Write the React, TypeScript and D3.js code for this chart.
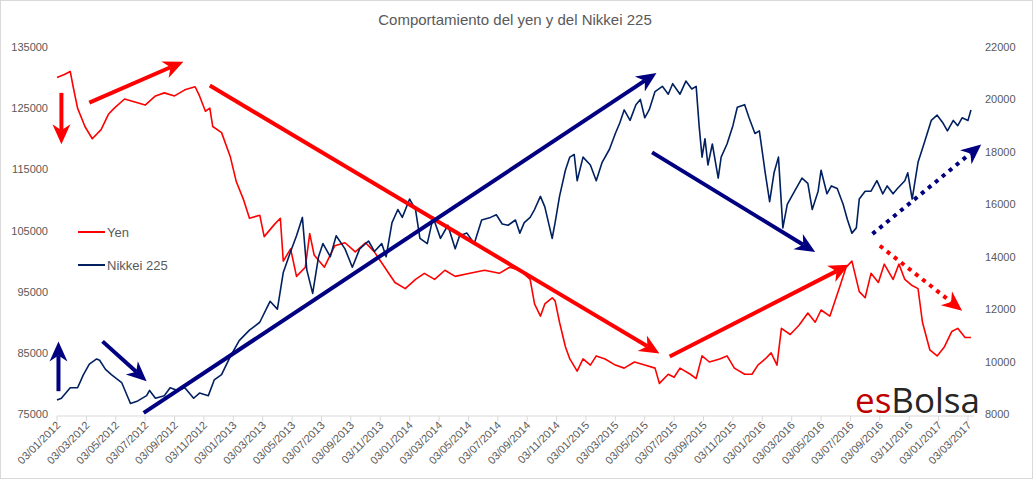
import * as d3 from "d3";

// months since 03/01/2012
const yenMonths = [0,0.5,0.9,1.1,1.4,1.9,2.4,3.0,3.5,3.9,4.6,5.3,6.0,6.7,7.3,8.0,8.7,9.4,9.7,10.1,10.4,10.6,11.2,11.8,12.2,12.7,13.1,13.8,14.1,14.8,15.2,15.4,15.9,16.3,16.9,17.2,17.5,18.2,18.9,19.6,20.3,21.0,21.6,22.3,23.0,23.7,24.4,25.0,25.7,26.4,27.1,28.1,29.1,30.1,30.8,31.5,32.2,32.5,32.9,33.2,33.7,33.9,34.2,34.6,34.9,35.4,35.8,36.3,36.7,37.3,38.0,38.6,39.3,40.0,40.7,41.0,41.6,42.0,42.4,43.1,43.5,43.9,44.4,45.1,45.6,46.1,46.8,47.3,47.7,48.2,48.6,49.0,49.3,49.9,50.5,51.1,51.6,52.0,52.6,53.3,53.7,54.1,54.6,55.0,55.4,55.9,56.3,56.9,57.3,57.7,58.2,58.6,58.9,59.4,59.9,60.4,60.9,61.3,61.8,62.2];
const yenValues = [130000,130500,131000,128500,125000,122000,120000,121500,124000,125000,126500,126000,125500,127000,127500,127000,128000,128500,127000,124500,125000,122000,121000,117000,113000,110000,107000,107500,104000,106000,107000,100000,102000,97500,99000,104500,101000,99000,102500,103000,101500,103000,101500,99000,96500,95500,97000,98000,97000,98500,97500,98000,98500,98000,99000,98500,97000,93000,91000,93000,94000,93500,90000,86000,84000,82000,84000,83000,84500,84000,83000,82500,83500,83000,82500,80000,81500,81000,82500,81500,80800,84500,83500,84000,84500,82500,81500,81500,83000,84000,85000,83000,89000,88000,89500,91500,90000,92000,91000,96000,99000,100000,95000,94000,98000,96500,99500,97000,99500,97000,96000,95500,90000,85500,84500,86000,88500,89000,87500,87500];

const nikMonths = [0,0.3,0.9,1.4,1.8,2.2,2.7,2.9,3.3,3.7,4.4,5.0,5.5,6.1,6.3,6.7,7.3,7.7,8.2,8.7,9.3,9.7,10.3,10.7,11.2,11.8,12.4,13.1,13.8,14.5,15.0,15.4,15.9,16.3,16.7,17.0,17.4,17.8,18.1,18.6,19.0,19.6,20.1,20.6,21.2,21.6,22.1,22.4,22.8,23.2,23.5,24.0,24.4,24.7,25.2,25.6,26.1,26.6,27.1,27.4,27.9,28.4,28.9,29.5,29.9,30.3,30.7,31.2,31.5,31.8,32.2,32.5,32.9,33.2,33.7,33.9,34.2,34.6,34.9,35.2,35.4,35.8,36.3,36.7,37.1,37.6,38.0,38.3,38.6,39.0,39.4,39.7,40.0,40.3,40.7,41.2,41.6,41.9,42.4,42.8,43.2,43.5,43.7,43.9,44.1,44.3,44.6,45.0,45.2,45.6,46.0,46.3,46.8,47.1,47.5,47.8,48.2,48.5,48.8,49.1,49.4,49.7,50.2,50.7,51.1,51.4,51.8,52.0,52.4,52.7,53.1,53.5,53.8,54.1,54.4,54.6,55.0,55.4,55.8,56.2,56.5,56.9,57.2,57.7,57.9,58.2,58.6,59.0,59.5,59.9,60.3,60.6,61.0,61.3,61.6,62.0,62.2];
const nikValues = [8530,8600,9000,9000,9500,9900,10100,10050,9700,9500,9200,8400,8500,8700,8900,8600,8700,9000,8900,9000,8600,8800,8700,9300,9500,10200,10800,11200,11500,12300,12000,13400,14200,14800,15500,13500,12600,14000,14500,14000,14800,14300,13600,14300,14600,14200,14500,14000,15300,15800,15500,16200,15800,14700,14500,15500,14700,15200,14300,14800,14900,14500,15400,15500,15600,15250,15200,15400,14900,15300,15500,15800,16300,15900,14700,15300,16300,17300,17800,17900,16900,17800,17500,16900,17600,18100,18700,19100,19600,19200,19800,20000,19300,19600,20300,20500,20200,20600,20200,20700,20400,20500,19000,17800,18500,17500,18300,17000,17800,18300,19000,19700,19800,19300,18700,18800,17200,16100,17200,17800,15100,16000,16500,17000,16800,15800,16500,17300,16400,16700,16600,16000,15400,14900,15100,16200,16500,16500,16900,16400,16700,16400,16600,16900,17200,16200,17600,18300,19200,19400,19100,18800,19200,19000,19300,19200,19600];

const xTickMonths = d3.range(0, 63, 2);
const xTickLabels = [
  "03/01/2012","03/03/2012","03/05/2012","03/07/2012","03/09/2012","03/11/2012",
  "03/01/2013","03/03/2013","03/05/2013","03/07/2013","03/09/2013","03/11/2013",
  "03/01/2014","03/03/2014","03/05/2014","03/07/2014","03/09/2014","03/11/2014",
  "03/01/2015","03/03/2015","03/05/2015","03/07/2015","03/09/2015","03/11/2015",
  "03/01/2016","03/03/2016","03/05/2016","03/07/2016","03/09/2016","03/11/2016",
  "03/01/2017","03/03/2017",
];
const leftTicks = [75000, 85000, 95000, 105000, 115000, 125000, 135000];
const rightTicks = [8000, 10000, 12000, 14000, 16000, 18000, 20000, 22000];

// annotation arrows: [m0, v0, m1, v1, dashed]
const redArrows: [number, number, number, number, boolean][] = [
  [0.3, 127500, 0.3, 119100, false],
  [2.2, 125900, 8.6, 132600, false],
  [10.4, 128700, 41.0, 84900, false],
  [41.7, 84400, 53.9, 99400, false],
  [56.0, 102500, 61.6, 91900, true],
];
const blueArrows: [number, number, number, number, boolean][] = [
  [0.1, 8870, 0.1, 10770, false],
  [3.1, 10770, 6.1, 9250, false],
  [5.9, 8040, 40.8, 21010, false],
  [40.5, 17980, 51.6, 14180, false],
  [55.5, 14870, 62.9, 18280, true],
];

const W = 1033, H = 479;
const M = { left: 57, right: 968, top: 47, bottom: 414 };
const FONT = "'Liberation Sans', Arial, sans-serif";
const GREY = "#595959";
const RED = "#ff0000";
const NAVY = "#002060";
const ARROW_BLUE = "#000080";

export default function App() {
  const x = d3.scaleLinear().domain([0, 62]).range([M.left, M.right]);
  const yL = d3.scaleLinear().domain([75000, 135000]).range([M.bottom, M.top]);
  const yR = d3.scaleLinear().domain([8000, 22000]).range([M.bottom, M.top]);

  const yenLine = d3.line<number>().x((_, i) => x(yenMonths[i])).y((d) => yL(d));
  const nikLine = d3.line<number>().x((_, i) => x(nikMonths[i])).y((d) => yR(d));

  const arrow = (a: [number, number, number, number, boolean], y: d3.ScaleLinear<number, number>, color: string, id: string, k: number) => {
    const x0 = x(a[0]), y0 = y(a[1]), x1 = x(a[2]), y1 = y(a[3]);
    const ang = Math.atan2(y1 - y0, x1 - x0);
    const hl = 20, hw = 9;
    const bx = x1 - hl * Math.cos(ang), by = y1 - hl * Math.sin(ang);
    const nx = -Math.sin(ang), ny = Math.cos(ang);
    const notch = x1 - hl * 0.7 * Math.cos(ang), notchY = y1 - hl * 0.7 * Math.sin(ang);
    return (
      <g key={id + k}>
        <line x1={x0} y1={y0} x2={notch} y2={notchY} stroke={color} strokeWidth={4}
          strokeDasharray={a[4] ? "4 5" : undefined} />
        <polygon fill={color}
          points={`${x1},${y1} ${bx + nx * hw},${by + ny * hw} ${notch},${notchY} ${bx - nx * hw},${by - ny * hw}`} />
      </g>
    );
  };

  return (
    <svg width={W} height={H} style={{ position: "absolute", left: 0, top: 0, background: "#fff" }} fontFamily={FONT}>
      <rect x={0.5} y={0.5} width={W - 1} height={H - 1} fill="#fff" stroke="#d9d9d9" />
      <text x={515} y={25} textAnchor="middle" fontSize={15} fill={GREY}>Comportamiento del yen y del Nikkei 225</text>

      <line x1={M.left} x2={M.right + 6} y1={M.bottom + 2} y2={M.bottom + 2} stroke="#d9d9d9" />
      {xTickMonths.map((m) => (
        <line key={"t" + m} x1={x(m)} x2={x(m)} y1={M.bottom + 2} y2={M.bottom + 7} stroke="#d9d9d9" />
      ))}
      {xTickMonths.map((m, i) => (
        <text key={"xl" + m} transform={`translate(${x(m) + 4},${M.bottom + 12}) rotate(-45)`}
          textAnchor="end" fontSize={11} fill={GREY}>{xTickLabels[i]}</text>
      ))}
      {leftTicks.map((v) => (
        <text key={"l" + v} x={48} y={yL(v) + 4} textAnchor="end" fontSize={11} fill={GREY}>{v}</text>
      ))}
      {rightTicks.map((v) => (
        <text key={"r" + v} x={985} y={yR(v) + 4} fontSize={11} fill={GREY}>{v}</text>
      ))}

      <path d={yenLine(yenValues) ?? ""} fill="none" stroke={RED} strokeWidth={1.6} strokeLinejoin="round" />
      <path d={nikLine(nikValues) ?? ""} fill="none" stroke={NAVY} strokeWidth={1.6} strokeLinejoin="round" />

      {redArrows.map((a, k) => arrow(a, yL, RED, "ra", k))}
      {blueArrows.map((a, k) => arrow(a, yR, ARROW_BLUE, "ba", k))}

      <line x1={78} x2={105} y1={232} y2={232} stroke={RED} strokeWidth={2} />
      <text x={107} y={237} fontSize={13} fill={GREY}>Yen</text>
      <line x1={78} x2={105} y1={265} y2={265} stroke={NAVY} strokeWidth={2} />
      <text x={107} y={270} fontSize={13} fill={GREY}>Nikkei 225</text>

      <text x={855} y={413} fontSize={35} fontFamily="'Open Sans', sans-serif">
        <tspan fill="#c00000">es</tspan><tspan fill="#262626">Bolsa</tspan>
      </text>
    </svg>
  );
}
